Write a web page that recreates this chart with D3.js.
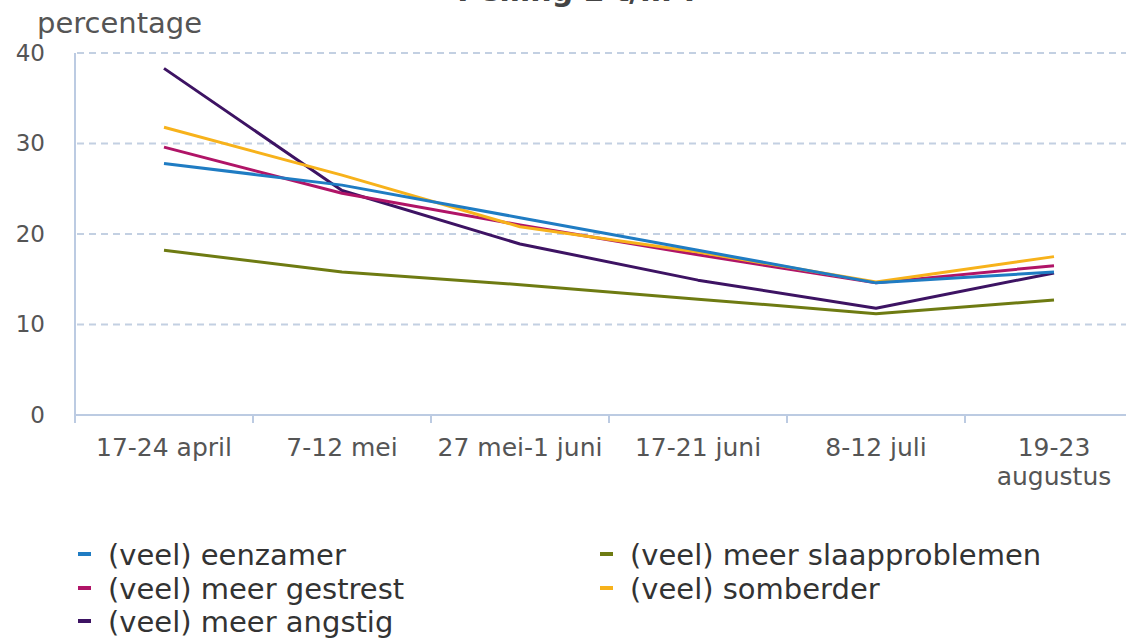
<!DOCTYPE html>
<html><head><meta charset="utf-8">
<script src="https://cdn.jsdelivr.net/npm/d3@7"></script>
<style>body{margin:0;background:#fff;} svg{display:block;}</style>
</head><body>
<svg id="c" width="1126" height="640"></svg>
<script>
const categories = ["17-24 april","7-12 mei","27 mei-1 juni","17-21 juni","8-12 juli","19-23 augustus"];
const categoryLines = [["17-24 april"],["7-12 mei"],["27 mei-1 juni"],["17-21 juni"],["8-12 juli"],["19-23","augustus"]];
const seriesNames = ["(veel) eenzamer","(veel) meer gestrest","(veel) meer angstig","(veel) meer slaapproblemen","(veel) somberder"];
const eenzamer = [27.8, 25.4, 21.8, 18.2, 14.6, 15.8];
const gestrest = [29.6, 24.5, 21.0, 17.7, 14.6, 16.5];
const angstig = [38.3, 24.8, 18.9, 14.9, 11.8, 15.7];
const slaap = [18.2, 15.8, 14.4, 12.8, 11.2, 12.7];
const somber = [31.8, 26.5, 20.8, 18.0, 14.7, 17.5];
const seriesColors = ["#1f7cc3","#b01467","#3d1363","#6e7b12","#f7b21b"];
const yTicks = [0,10,20,30,40];
const title = "Peiling 2 t/m 7";
const yTitle = "percentage";

const series = [eenzamer, gestrest, angstig, slaap, somber];
const svg = d3.select("#c");
const font = "'DejaVu Sans', Verdana, sans-serif";

const x = d3.scaleBand().domain(categories).range([75, 1143]);
const y = d3.scaleLinear().domain([0,40]).range([415, 53]);

// title (cut off at top, as in the reference)
svg.append("text").attr("x", 580).attr("y", 1).attr("text-anchor","middle")
  .attr("font-family", font).attr("font-weight","bold").attr("font-size", 30).attr("fill","#444").text(title);

// y title
svg.append("text").attr("x", 37).attr("y", 33).attr("font-family", font).attr("font-size", 29)
  .attr("fill","#555").text(yTitle);

// gridlines
svg.append("g").selectAll("line").data(yTicks.filter(d=>d>0)).join("line")
  .attr("x1", 77).attr("x2", 1126).attr("y1", d=>y(d)).attr("y2", d=>y(d))
  .attr("stroke","#c3d0e2").attr("stroke-width",2).attr("stroke-dasharray","7,5");

// y axis
const yAxis = svg.append("g").attr("transform","translate(75,0)")
  .call(d3.axisLeft(y).tickValues(yTicks).tickSize(0).tickPadding(0));
yAxis.select(".domain").attr("stroke","#bccbe2").attr("stroke-width",2).attr("d","M0,53V416");
yAxis.selectAll("text").attr("x",-30).attr("font-family",font).attr("font-size",23).attr("fill","#555");

// x axis
const xAxis = svg.append("g").attr("transform","translate(0,415)")
  .call(d3.axisBottom(x).tickSize(0).tickFormat(""));
xAxis.select(".domain").attr("stroke","#bccbe2").attr("stroke-width",2).attr("d","M74,0H1126");
const tickPos = categories.map(c => x(c));
svg.append("g").selectAll("line").data(tickPos).join("line")
  .attr("x1", d=>d).attr("x2", d=>d).attr("y1", 415).attr("y2", 423)
  .attr("stroke","#bccbe2").attr("stroke-width",2);

// x labels
const lbl = svg.append("g");
categories.forEach((c,i) => {
  const t = lbl.append("text").attr("text-anchor","middle").attr("font-family",font)
    .attr("font-size",25).attr("fill","#555");
  categoryLines[i].forEach((s,j) => {
    t.append("tspan").attr("x", x(c)+x.bandwidth()/2).attr("y", 456 + j*29).text(s);
  });
});

// lines
const line = d3.line().x((d,i)=>x(categories[i])+x.bandwidth()/2).y(d=>y(d));
const drawOrder = [3,2,1,4,0];
svg.append("g").selectAll("path").data(drawOrder).join("path")
  .attr("d", k=>line(series[k])).attr("fill","none")
  .attr("stroke", k=>seriesColors[k]).attr("stroke-width",3).attr("stroke-linejoin","round");

// legend
const legendPos = [[78,555],[78,589],[78,622],[600,555],[600,589]];
const lg = svg.append("g");
seriesNames.forEach((n,i) => {
  const [lx,ly] = legendPos[i];
  lg.append("rect").attr("x",lx).attr("y",ly-3).attr("width",13).attr("height",4).attr("fill",seriesColors[i]);
  lg.append("text").attr("x",lx+30).attr("y",ly+10).attr("font-family",font).attr("font-size",29)
    .attr("fill","#333").text(n);
});
</script>
</body></html>
